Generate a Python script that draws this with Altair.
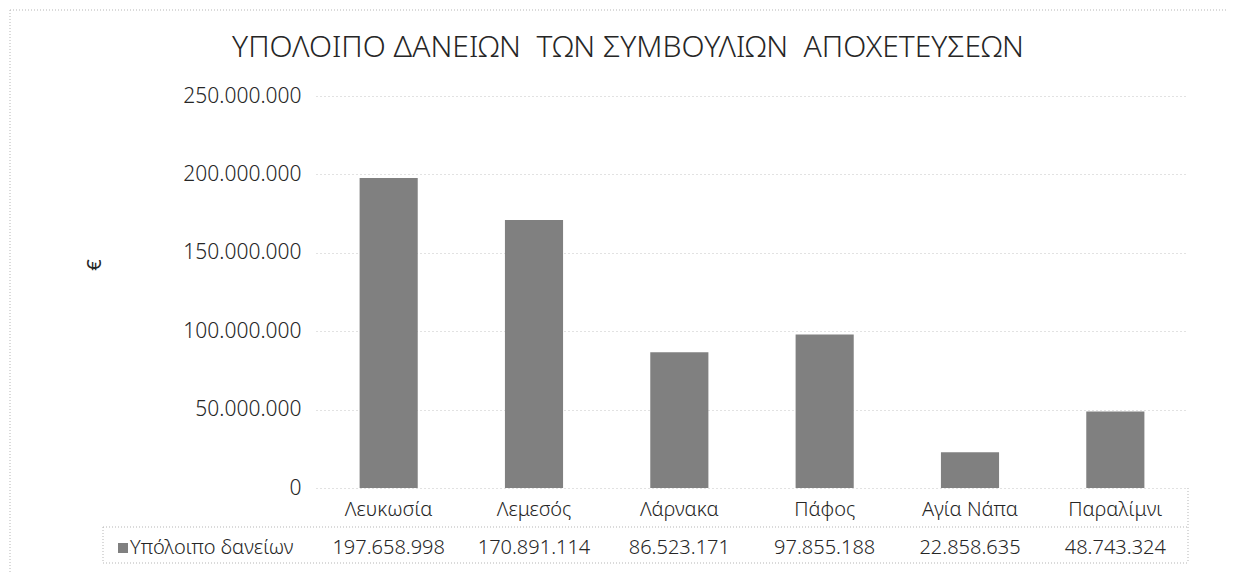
import altair as alt
import pandas as pd

# ---- data ----
categories = ["Λευκωσία", "Λεμεσός", "Λάρνακα", "Πάφος", "Αγία Νάπα", "Παραλίμνι"]
values = [197658998, 170891114, 86523171, 97855188, 22858635, 48743324]
y_ticks = [0, 50000000, 100000000, 150000000, 200000000, 250000000]
title_text = "ΥΠΟΛΟΙΠΟ ΔΑΝΕΙΩΝ \u00a0ΤΩΝ ΣΥΜΒΟΥΛΙΩΝ \u00a0ΑΠΟΧΕΤΕΥΣΕΩΝ"
series_name = "Υπόλοιπο δανείων"
y_title = "€"

FONT = "Noto Sans"
TXT = "#262626"
BAR = "#808080"
W, H = 872, 392

df = pd.DataFrame({
    "cat": categories,
    "value": values,
    "label": [f"{v:,}".replace(",", ".") for v in values],
})

x_enc = alt.X("cat:N", sort=categories,
              scale=alt.Scale(paddingInner=0.6, paddingOuter=0.3),
              axis=alt.Axis(title=None, labelAngle=0, ticks=False, domain=False,
                            labelFontSize=20, labelFont=FONT, labelColor=TXT,
                            labelFontWeight=300,
                            labelPadding=11, grid=False))

bars = alt.Chart(df).mark_bar(color=BAR).encode(
    x=x_enc,
    y=alt.Y("value:Q", scale=alt.Scale(domain=[0, 250000000], nice=False),
            axis=alt.Axis(title=None, values=y_ticks, ticks=False, domain=False,
                          labelFontSize=21, labelFont=FONT, labelColor=TXT,
                          labelFontWeight=300,
                          labelPadding=15,
                          labelExpr="replace(format(datum.value, ',d'), /,/g, '.')",
                          grid=True, gridColor="#c4c4c4", gridDash=[1, 3],
                          gridWidth=1)),
)

table_vals = alt.Chart(df).mark_text(fontSize=20, font=FONT, color=TXT,
                                     fontWeight=300,
                                     baseline="middle").encode(
    x=alt.X("cat:N", sort=categories),
    y=alt.value(452),
    text="label:N",
)

meta = pd.DataFrame({"title": [title_text], "series": [series_name], "ytitle": [y_title]})
base = alt.Chart(meta)

title = base.mark_text(fontSize=30, font=FONT, fontWeight=300, color=TXT,
                       baseline="middle", align="center").encode(
    x=alt.value(312), y=alt.value(-48), text="title:N")

ytitle = base.mark_text(fontSize=20, font=FONT, color=TXT, angle=270,
                        baseline="middle", align="center").encode(
    x=alt.value(-221), y=alt.value(169), text="ytitle:N")

legend_text = base.mark_text(fontSize=20, font=FONT, color=TXT, fontWeight=300,
                             baseline="middle", align="left").encode(
    x=alt.value(-186), y=alt.value(452), text="series:N")

legend_box = base.mark_rect(color=BAR).encode(
    x=alt.value(-198), x2=alt.value(-188), y=alt.value(447), y2=alt.value(457))

line_style = dict(color="#b5b5b5", strokeDash=[1, 2], strokeWidth=1)
t_top = base.mark_rule(**line_style).encode(x=alt.value(-213), x2=alt.value(W), y=alt.value(431))
t_bot = base.mark_rule(**line_style).encode(x=alt.value(-213), x2=alt.value(W), y=alt.value(467))
t_left = base.mark_rule(**line_style).encode(x=alt.value(-213), y=alt.value(431), y2=alt.value(467))
t_right = base.mark_rule(**line_style).encode(x=alt.value(W), y=alt.value(392), y2=alt.value(467))
b_top = base.mark_rule(**line_style).encode(x=alt.value(-306), x2=alt.value(W + 40), y=alt.value(-86))
b_left = base.mark_rule(**line_style).encode(x=alt.value(-306), y=alt.value(-86), y2=alt.value(476))

chart = alt.layer(
    bars, table_vals, title, ytitle, legend_text, legend_box,
    t_top, t_bot, t_left, t_right, b_top, b_left,
).properties(
    width=W, height=H,
    autosize=alt.AutoSizeParams(type="none"),
    padding={"left": 308, "top": 88, "right": 42, "bottom": 85},
).configure_view(stroke=None)

chart.save("out.html", embed_options={"renderer": "svg", "actions": False})
